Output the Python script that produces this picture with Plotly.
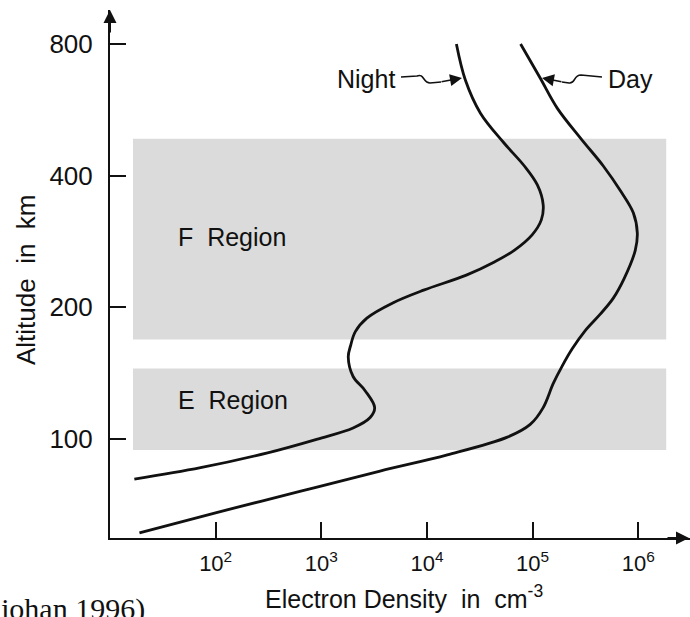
import math
import plotly.graph_objects as go

# Electron density profiles (cm^-3) against altitude (km)
night_density = [17, 72, 310, 920, 2000, 2900, 3200, 2600, 2000, 1800, 1900, 2100,
                 2700, 4800, 9300, 2.36e4, 4.35e4, 6.7e4, 9.9e4, 1.21e5, 1.26e5,
                 1.11e5, 8.36e4, 5.29e4, 3.21e4, 2.31e4, 1.9e4]
night_altitude = [81, 86, 93, 100, 106, 112, 118, 129, 139, 154, 164, 176,
                  189, 205, 219, 237, 254, 270, 293, 317, 343,
                  381, 421, 477, 556, 662, 800]

day_density = [19, 104, 640, 3600, 1.56e4, 5.77e4, 9.5e4, 1.26e5, 1.57e5, 1.91e5,
               2.38e5, 3.15e5, 4.37e5, 5.81e5, 7.37e5, 9.37e5, 9.8e5, 8.98e5,
               6.91e5, 4.67e5, 2.89e5, 1.71e5, 1.18e5, 7.7e4]
day_altitude = [61, 68, 76, 84.5, 92, 101, 108, 118, 134, 147,
                161, 177, 193, 210, 233, 270, 296, 329,
                367, 421, 485, 571, 669, 800]

# Ionospheric layers (altitude bounds, km) and horizontal extent (cm^-3)
f_region = [169, 486]
e_region = [94.4, 145]
band_density = [16.5, 1.84e6]

x_tick_values = [1e2, 1e3, 1e4, 1e5, 1e6]
x_tick_text = ["10<sup>2</sup>", "10<sup>3</sup>", "10<sup>4</sup>",
               "10<sup>5</sup>", "10<sup>6</sup>"]
y_tick_values = [100, 200, 400, 800]
y_tick_text = ["100", "200", "400", "800"]

W, H = 690, 617
L, R, T, B = 110, 0, 10, 79
PW, PH = W - L - R, H - T - B

FONT = "Liberation Sans, Arial, Helvetica, sans-serif"
INK = "#111111"


def fx(x):
    return (x - L) / PW


def fy(y):
    return (H - B - y) / PH


fig = go.Figure()

# Shaded E and F layers
for lo, hi in (f_region, e_region):
    x0, x1 = band_density
    fig.add_trace(go.Scatter(x=[x0, x1, x1, x0, x0], y=[lo, lo, hi, hi, lo],
                             mode="lines", fill="toself", fillcolor="#dbdbdb",
                             line=dict(width=0, color="#dbdbdb"),
                             hoverinfo="skip", showlegend=False))

for dens, alt in ((night_density, night_altitude), (day_density, day_altitude)):
    fig.add_trace(go.Scatter(x=dens, y=alt, mode="lines",
                             line=dict(color=INK, width=2.8,
                                       shape="spline", smoothing=1.0),
                             hoverinfo="skip", showlegend=False))

annotations = []


def label(text, x, y, size, xanchor="left", yanchor="middle", angle=0, family=FONT):
    annotations.append(dict(text=text, x=fx(x), y=fy(y), xref="paper", yref="paper",
                            xanchor=xanchor, yanchor=yanchor, textangle=angle,
                            showarrow=False, font=dict(family=family, size=size,
                                                       color=INK)))


label("F\u00a0 Region", 176, 237, 25)
label("E\u00a0 Region", 176, 400, 25)
label("Night", 397, 79, 25, xanchor="right")
label("Day", 606, 79, 25)
label("Altitude\u00a0 in\u00a0 km", 26, 280, 26, xanchor="center", angle=-90)
label("Electron Density\u00a0 in\u00a0 cm<sup>-3</sup>", 404, 597, 25, xanchor="center")
label("johan 1996)", -2, 628, 30, yanchor="bottom",
      family="Liberation Serif, Times New Roman, serif")

# Arrowheads on the axes
annotations.append(dict(x=0, y=1, xref="paper", yref="paper", text="", showarrow=True,
                        ax=0, ay=24, arrowhead=2, arrowsize=1.3, arrowwidth=2,
                        arrowcolor=INK))
annotations.append(dict(x=1, y=0, xref="paper", yref="paper", text="", showarrow=True,
                        ax=-24, ay=0, arrowhead=2, arrowsize=1.3, arrowwidth=2,
                        arrowcolor=INK))

# Pointers from the curve labels
annotations.append(dict(x=fx(462), y=fy(78), xref="paper", yref="paper", text="",
                        showarrow=True, ax=-22, ay=4, arrowhead=2, arrowsize=1.5,
                        arrowwidth=1.6, arrowcolor=INK))
annotations.append(dict(x=fx(542), y=fy(78), xref="paper", yref="paper", text="",
                        showarrow=True, ax=21, ay=4, arrowhead=2, arrowsize=1.5,
                        arrowwidth=1.6, arrowcolor=INK))


def pt(x, y):
    return f"{fx(x):.5f},{fy(y):.5f}"


night_squiggle = (f"M {pt(401, 77)} L {pt(417, 76)} C {pt(424, 73)} {pt(423, 83)} "
                  f"{pt(430, 83)} L {pt(441, 82)}")
day_squiggle = (f"M {pt(562, 82)} L {pt(569, 83)} C {pt(576, 84)} {pt(573, 75)} "
                f"{pt(581, 75)} L {pt(602, 77)}")
for p in (night_squiggle, day_squiggle):
    fig.add_shape(type="path", xref="paper", yref="paper", path=p,
                  line=dict(color=INK, width=1.6))

fig.update_layout(
    width=W, height=H, autosize=False,
    margin=dict(l=L, r=R, t=T, b=B, pad=0),
    paper_bgcolor="white", plot_bgcolor="white",
    showlegend=False,
    annotations=annotations,
    font=dict(family=FONT, color=INK),
)

fig.update_xaxes(type="log", range=[1.0, 6.49], showgrid=False, zeroline=False,
                 showline=True, linewidth=2, linecolor=INK,
                 tickmode="array", tickvals=x_tick_values, ticktext=x_tick_text,
                 ticks="inside", ticklen=16, tickwidth=1.6, tickcolor=INK,
                 ticklabelstandoff=5, tickfont=dict(size=22, family=FONT))
fig.update_yaxes(type="log", range=[math.log10(59.4), math.log10(957)],
                 showgrid=False, zeroline=False,
                 showline=True, linewidth=2, linecolor=INK,
                 tickmode="array", tickvals=y_tick_values, ticktext=y_tick_text,
                 ticks="inside", ticklen=16, tickwidth=1.6, tickcolor=INK,
                 ticklabelstandoff=10, tickfont=dict(size=26, family=FONT))

fig.write_html("out.html")
